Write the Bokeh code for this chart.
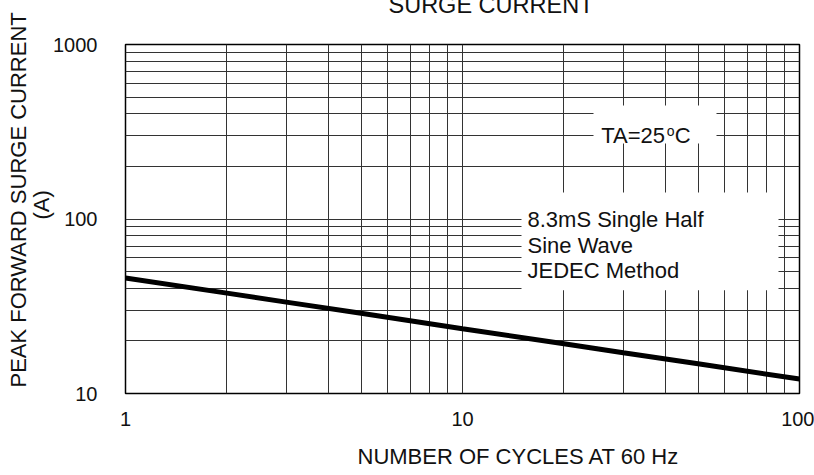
import math
from bokeh.plotting import figure
from bokeh.models import FixedTicker, Label, BoxAnnotation, BasicTickFormatter, Title
from bokeh.embed import file_html
from bokeh.resources import INLINE

# ---------------- data ----------------
cycles = [1, 2, 3, 5, 10, 20, 30, 50, 100]
surge_current = [45.9, 37.6, 33.4, 28.8, 23.5, 19.3, 17.1, 14.8, 12.1]

x_ticks = [1, 10, 100]
x_tick_labels = ["1", "10", "100"]
x_minor = [2, 3, 4, 5, 6, 7, 8, 9, 20, 30, 40, 50, 60, 70, 80, 90]
y_ticks = [10, 100, 1000]
y_tick_labels = ["10", "100", "1000"]
y_minor = [20, 30, 40, 50, 60, 70, 80, 90, 200, 300, 400, 500, 600, 700, 800, 900]

title_text = "SURGE CURRENT"
x_title = "NUMBER OF CYCLES AT 60 Hz"
y_title = "PEAK FORWARD SURGE CURRENT"
y_unit = "(A)"
temp_parts = ["TA=25", "o", "C"]
note_lines = ["8.3mS Single Half", "Sine Wave", "JEDEC Method"]

# ---------------- layout helpers (window pixel -> data, for in-frame notes) ----------------
FX0, FX1 = 125.0, 799.0
FY0, FY1 = 44.0, 393.0


def dx(px):
    return 10 ** ((px - FX0) / (FX1 - FX0) * 2)


def dy(py):
    return 10 ** (1 + (FY1 - py) / (FY1 - FY0) * 2)


FONT = "Liberation Sans"
TXT = "#111111"
TOP = 83      # canvas border above frame
BOTTOM = 97   # canvas border below frame
SHIFT = TOP - 44

p = figure(
    width=814, height=TOP + 349 + BOTTOM,
    x_axis_type="log", y_axis_type="log",
    x_range=(1, 100), y_range=(10, 1000),
    output_backend="svg", toolbar_location=None,
    min_border_left=125, min_border_right=15,
    min_border_top=TOP, min_border_bottom=BOTTOM,
)
p.styles = {"margin-top": f"-{SHIFT}px"}
p.background_fill_color = "white"
p.border_fill_color = "white"
p.outline_line_color = "black"
p.outline_line_width = 1.5

xt = FixedTicker(ticks=x_ticks, minor_ticks=x_minor)
yt = FixedTicker(ticks=y_ticks, minor_ticks=y_minor)
p.xaxis.ticker = xt
p.yaxis.ticker = yt
p.xgrid.ticker = xt
p.ygrid.ticker = yt
for g in (p.xgrid, p.ygrid):
    g.grid_line_color = "#333333"
    g.grid_line_width = 1
    g.minor_grid_line_color = "#333333"
    g.minor_grid_line_width = 1

for ax in (p.xaxis, p.yaxis):
    ax.formatter = BasicTickFormatter()
    ax.axis_line_color = None
    ax.major_tick_line_color = None
    ax.minor_tick_line_color = None
    ax.major_tick_out = 0
    ax.major_tick_in = 0
    ax.minor_tick_out = 0
    ax.minor_tick_in = 0
    ax.major_label_text_font = FONT
    ax.major_label_text_font_size = "20px"
    ax.major_label_text_color = TXT
p.xaxis.major_label_overrides = {t: l for t, l in zip(x_ticks, x_tick_labels)}
p.yaxis.major_label_overrides = {t: l for t, l in zip(y_ticks, y_tick_labels)}
p.xaxis.major_label_standoff = 18
p.yaxis.major_label_standoff = 28

# curve
p.line(cycles, surge_current, line_width=5, line_color="black", line_cap="round")

# white boxes behind notes
p.add_layout(BoxAnnotation(left=dx(593), right=dx(716), top=dy(105), bottom=dy(143),
                           fill_color="white", fill_alpha=1, line_color=None))
p.add_layout(BoxAnnotation(left=dx(521), right=dx(778), top=dy(192), bottom=dy(289.8),
                           fill_color="white", fill_alpha=1, line_color=None))


def lab(x, y, text, size="22px", x_offset=0, y_offset=0):
    p.add_layout(Label(x=x, y=y, text=text, text_font=FONT, text_font_size=size,
                       text_color=TXT, text_align="left", text_baseline="alphabetic",
                       x_offset=x_offset, y_offset=y_offset))


# temperature note with superscript o
lab(dx(600.7), dy(135), temp_parts[0])
lab(dx(600.7), dy(135), temp_parts[1], size="14px", x_offset=65.5, y_offset=5)
lab(dx(600.7), dy(135), temp_parts[2], x_offset=73.5)

for i, line in enumerate(note_lines):
    lab(dx(527), dy([219, 245, 270][i]), line)


def title(text, size, offset, standoff, valign="bottom"):
    return Title(text=text, align="left", vertical_align=valign, offset=offset,
                 standoff=standoff, text_font=FONT, text_font_size=size,
                 text_font_style="normal", text_color=TXT)


p.add_layout(title(title_text, "23.5px", offset=263, standoff=54), "above")
p.add_layout(title(x_title, "22px", offset=232, standoff=30, valign="top"), "below")
p.add_layout(title(y_unit, "22px", offset=174, standoff=-6), "left")
p.add_layout(title(y_title, "22px", offset=6, standoff=-2), "left")

open("out.html", "w").write(file_html(p, INLINE))
